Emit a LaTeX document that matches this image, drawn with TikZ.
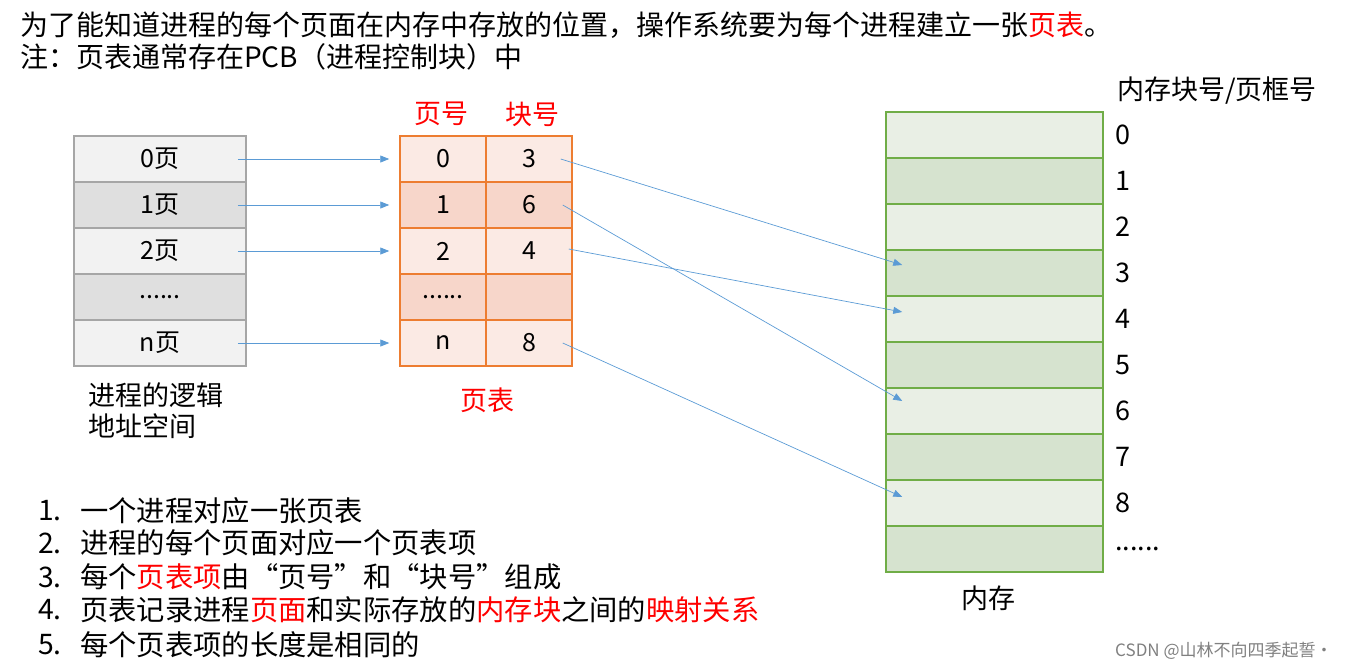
\documentclass[tikz,border=0pt]{standalone}
\usepackage{fontspec}
\setmainfont{Noto Sans CJK SC}
\usetikzlibrary{arrows.meta}
\newcommand\mydots{......}
\definecolor{ar}{RGB}{91,155,213}
\definecolor{lg1}{RGB}{242,242,242}\definecolor{lg2}{RGB}{223,223,223}\definecolor{lgb}{RGB}{166,166,166}
\definecolor{pt1}{RGB}{251,234,228}\definecolor{pt2}{RGB}{247,214,202}\definecolor{ptb}{RGB}{237,125,49}
\definecolor{m1}{RGB}{233,239,229}\definecolor{m2}{RGB}{214,227,207}\definecolor{mb}{RGB}{112,173,71}
\begin{document}
\begin{tikzpicture}[x=1pt,y=-1pt,
  txt/.style={font=\fontsize{27}{31}\selectfont,inner sep=0pt},
  lst/.style={font=\fontsize{28.3}{32}\selectfont,inner sep=0pt,anchor=west},
  big/.style={font=\fontsize{28}{32}\selectfont,inner sep=0pt,anchor=west},
  cell/.style={draw,line width=1.5pt,minimum width=172pt,minimum height=46pt,inner sep=0,font=\fontsize{25}{28}\selectfont},
  pcell/.style={draw=ptb,line width=1.5pt,minimum width=86pt,minimum height=46pt,inner sep=0,font=\fontsize{25}{28}\selectfont},
  mcell/.style={draw=mb,line width=1.5pt,minimum width=217pt,minimum height=46pt,inner sep=0},
  arr/.style={draw=ar,line width=0.7pt,-{Triangle[length=9pt,width=7pt]}}]
\useasboundingbox (0,0) rectangle (1365,670);
\node[big] (t1) at (20,25) {为了能知道进程的每个页面在内存中存放的位置，操作系统要为每个进程建立一张\textcolor{red}{页表}。};
\node[big] (t2) at (20,57) {注：页表通常存在PCB（进程控制块）中};
% logical
\foreach \i/\t/\c in {0/0页/lg1,1/1页/lg2,2/2页/lg1,3/\mydots/lg2,4/n页/lg1}
  \node[cell,draw=lgb,fill=\c] (L\i) at (160,159+46*\i) {\t};
\node[txt,anchor=west,align=left] (lname) at (88,411) {进程的逻辑\\地址空间};
% page table
\foreach \i/\a/\b/\c in {0/0/3/pt1,1/1/6/pt2,2/2/4/pt1,3/\mydots/{}/pt2,4/n/8/pt1}{
  \node[pcell,fill=\c] (P\i) at (443,159+46*\i) {\a};
  \node[pcell,fill=\c] (B\i) at (529,159+46*\i) {\b};}
\node[txt,text=red] (h1) at (441,114) {页号};
\node[txt,text=red] (h2) at (532,114) {块号};
\node[txt,text=red] (ptn) at (487,400) {页表};
% memory
\foreach \i/\c in {0/m1,1/m2,2/m1,3/m2,4/m1,5/m2,6/m1,7/m2,8/m1,9/m2}
  \node[mcell,fill=\c] (M\i) at (994.5,135+46*\i) {};
\foreach \i in {0,1,2,3,4,5,6,7,8} \node[txt,anchor=west] (ML\i) at (1115,135+46*\i) {\i};
\node[txt,anchor=west] (MLd) at (1115,549) {\mydots};
\node[txt,anchor=west] (mh) at (1117,91) {内存块号/页框号};
\node[txt] (mn) at (988,598) {内存};
% arrows
\foreach \i in {0,1,2,4} \draw[arr] ([xshift=-9pt]L\i.east) -- ([xshift=-10pt]P\i.west);
\draw[arr] ([xshift=-12pt]B0.east) -- ([xshift=17pt,yshift=8pt]M3.west);
\draw[arr] ([xshift=-10pt]B1.east) -- ([xshift=17pt,yshift=10pt]M6.west);
\draw[arr] ([xshift=-4pt,yshift=2pt]B2.east) -- ([xshift=17pt,yshift=7pt]M4.west);
\draw[arr] ([xshift=-10pt]B4.east) -- ([xshift=17pt,yshift=6pt]M8.west);
% list
\foreach \i/\t [count=\k] in {511/一个进程对应一张页表,543/进程的每个页面对应一个页表项,577/每个\textcolor{red}{页表项}由“页号”和“块号”组成,610/页表记录进程\textcolor{red}{页面}和实际存放的\textcolor{red}{内存块}之间的\textcolor{red}{映射关系},645/每个页表项的长度是相同的}{
  \node[lst] (n\k) at (38,\i) {\k.};
  \node[lst] (l\k) at (80,\i) {\t};}
\node[inner sep=0,anchor=west,text=gray,font=\fontsize{17}{19}\selectfont] (wm) at (1115,651) {CSDN @山林不向四季起誓·};
\end{tikzpicture}
\end{document}
